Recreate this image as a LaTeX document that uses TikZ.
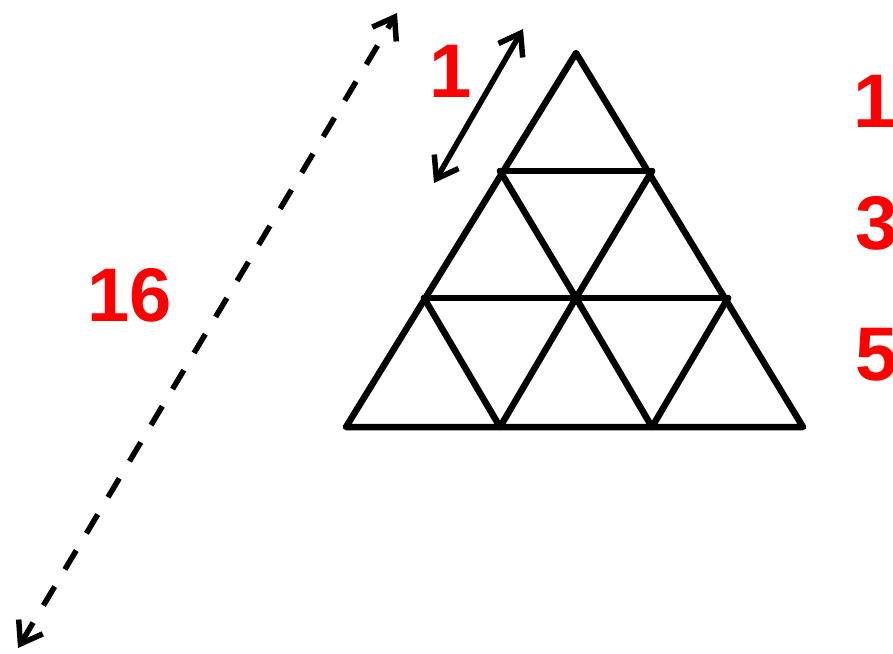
\documentclass[tikz,border=0pt]{standalone}
\usepackage{fontspec}
\setmainfont{Liberation Sans}
\usetikzlibrary{arrows.meta}
\definecolor{numred}{RGB}{255,0,0}
\tikzset{
  edge/.style={line width=6.5pt, line cap=round, line join=round, black},
  dbl/.style={line width=5.5pt, black, {Straight Barb[length=20pt,width=28pt]}-{Straight Barb[length=20pt,width=28pt]}},
  dashdbl/.style={dbl, dash pattern=on 22pt off 20pt},
  num/.style={text=numred, font=\fontsize{76}{76}\selectfont\bfseries, inner sep=0pt}
}
\begin{document}
\begin{tikzpicture}[x=1pt,y=-1pt]
\useasboundingbox (0,0) rectangle (893,653);
\fill[white] (0,0) rectangle (893,653);
% triangle vertices
\coordinate (A) at (576,53);
\coordinate (L1) at (500,171);
\coordinate (R1) at (652,171);
\coordinate (L2) at (424,298);
\coordinate (M2) at (576,298);
\coordinate (R2) at (728,298);
\coordinate (B0) at (346,427);
\coordinate (B1) at (500,427);
\coordinate (B2) at (652,427);
\coordinate (B3) at (803,427);
\draw[edge] (A) -- (B0) -- (B3) -- cycle;
\draw[edge] (L1) -- (R1);
\draw[edge] (L2) -- (R2);
\draw[edge] (L1) -- (M2) -- (R1);
\draw[edge] (L2) -- (B1) -- (M2) -- (B2) -- (R2);
% arrows
\coordinate (s1) at (434,183);
\coordinate (s2) at (523,29);
\draw[dbl] (s1) -- (s2);
\coordinate (d1) at (18,648);
\coordinate (d2) at (397,13);
\draw[dashdbl] (d1) -- (d2);
% labels
\node[num] (one) at (451,71) {1};
\node[num] (sixteen) at (130,295) {16};
\node[num, anchor=west] (r1) at (853,101) {1};
\node[num, anchor=west] (r3) at (855,223) {3};
\node[num, anchor=west] (r5) at (855,355) {5};
\end{tikzpicture}
\end{document}
